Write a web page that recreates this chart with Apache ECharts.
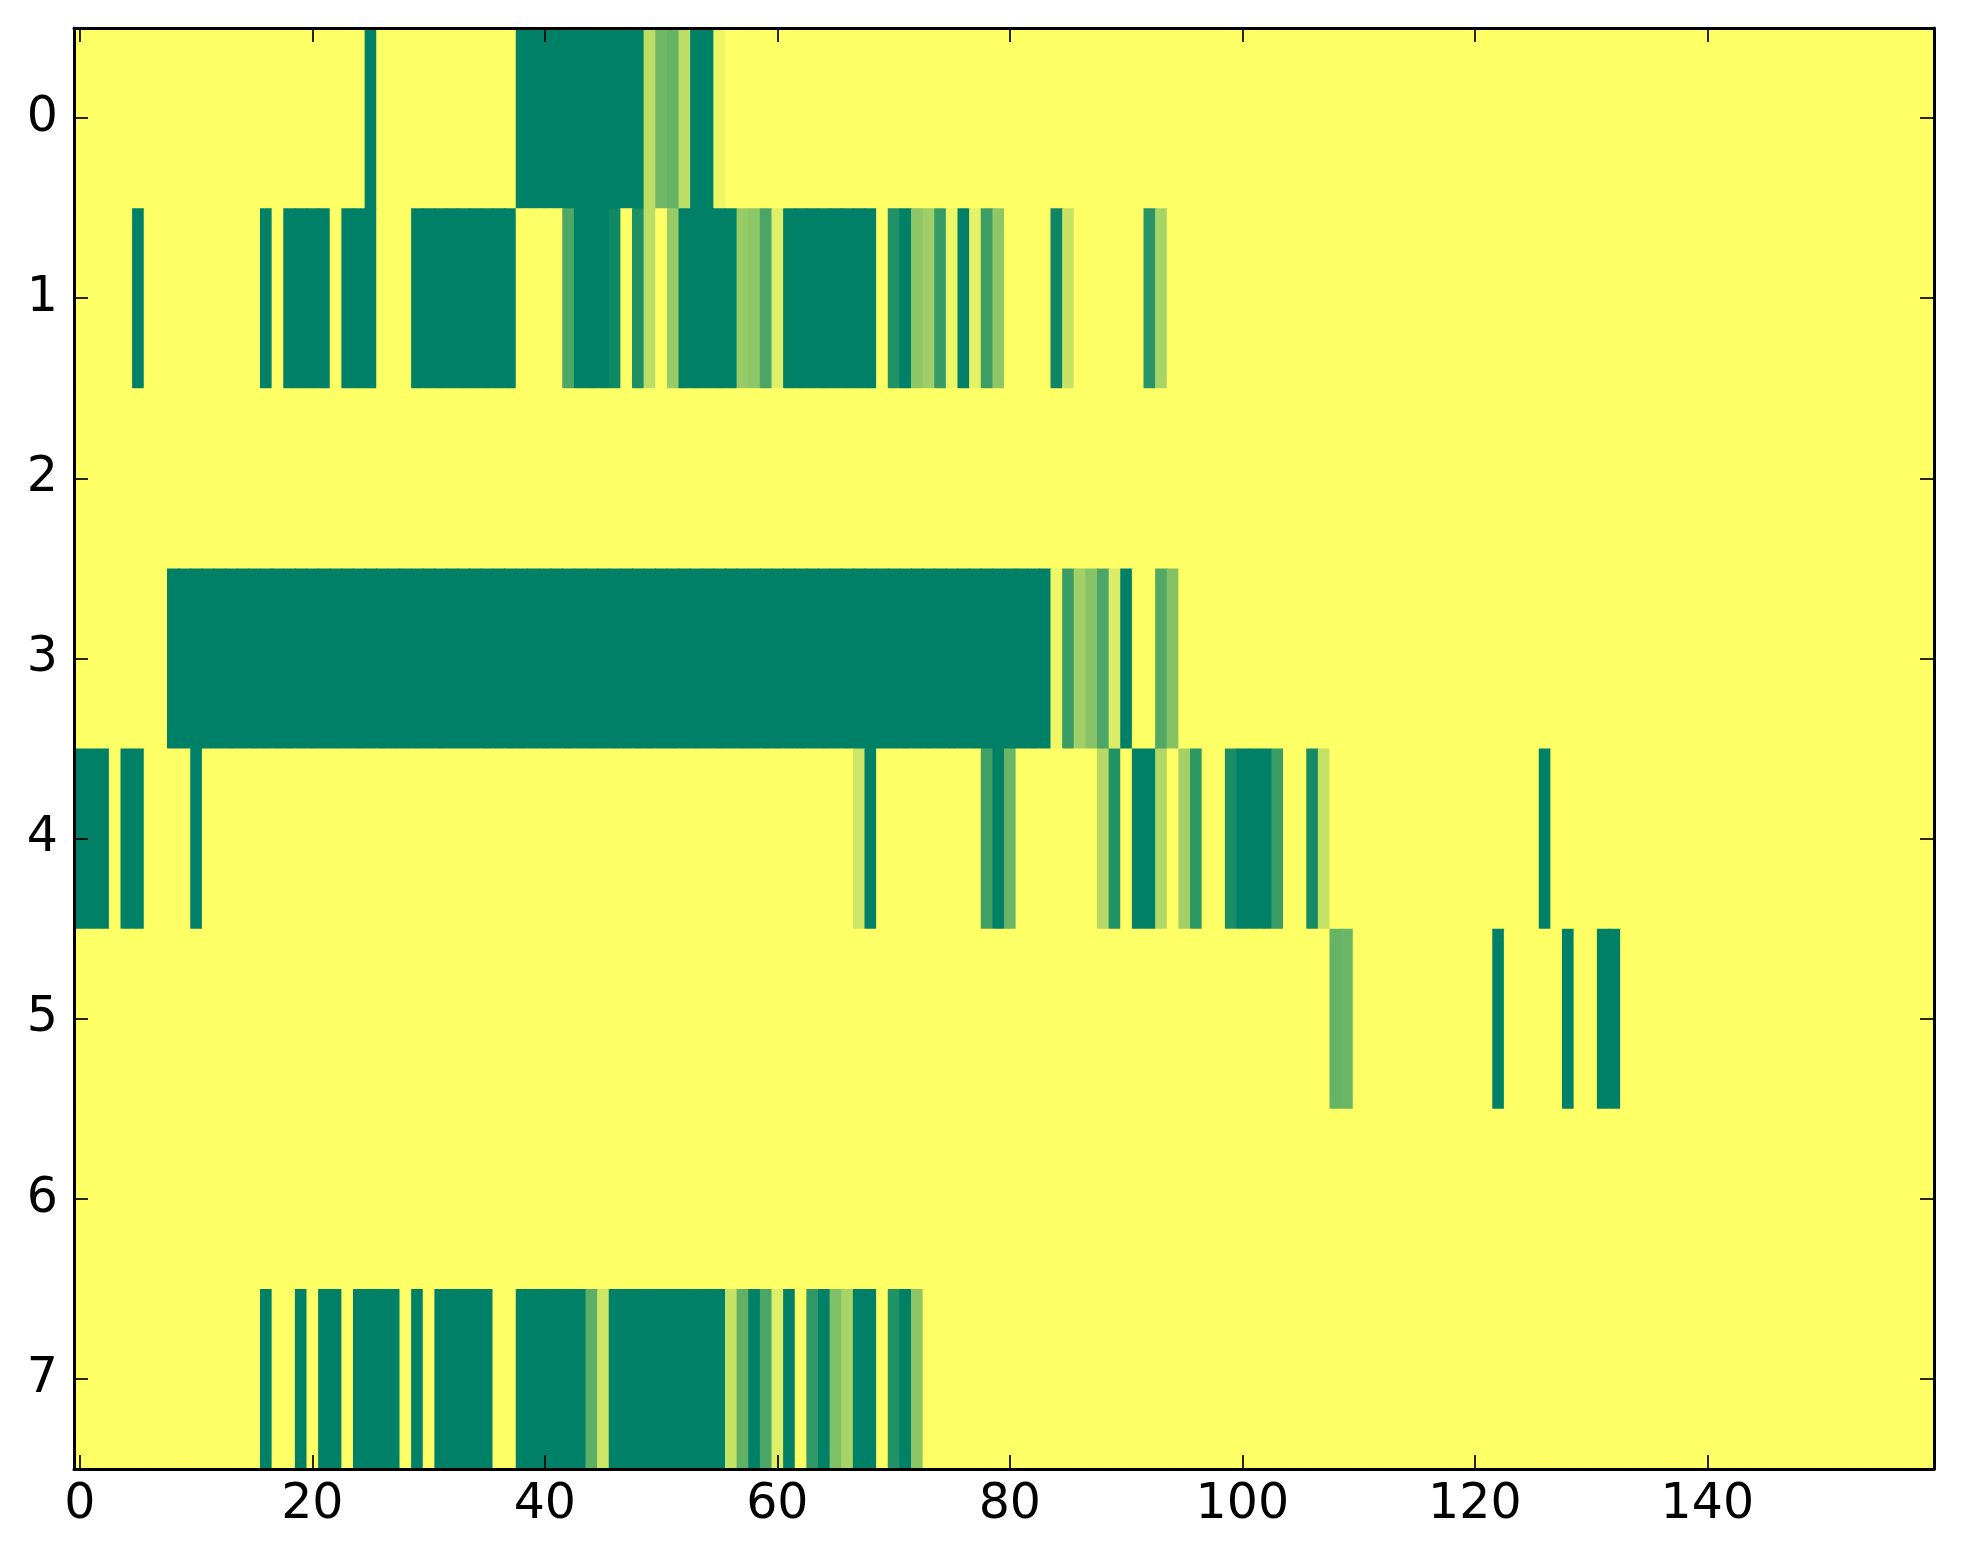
<!DOCTYPE html>
<html>
<head>
<meta charset="utf-8">
<script src="https://cdn.jsdelivr.net/npm/echarts@6/dist/echarts.min.js"></script>
<style>
html,body{margin:0;padding:0;background:#fff;}
#chart{width:1963px;height:1564px;}
</style>
</head>
<body>
<div id="chart"></div>
<script>
// number of columns / rows of the image
var nCols = 160;
var rowLabels = ['0','1','2','3','4','5','6','7'];
var xTickLabels = [0, 20, 40, 60, 80, 100, 120, 140];

// non-zero segments per row: [startCol, endCol, value]; all other cells are 0
var row0 = [[25,25,1],[38,48,1],[49,49,0.26],[50,50,0.56],[51,51,0.6],[52,52,0.26],[53,54,1],[55,55,0.07]];
var row1 = [[5,5,1],[16,16,1],[18,21,1],[23,25,1],[29,37,1],[42,42,0.69],[43,45,1],[46,46,0.94],[48,48,0.88],[49,49,0.26],[51,51,0.41],[52,56,1],[57,57,0.41],[58,58,0.45],[59,59,0.71],[60,60,0.13],[61,68,1],[70,70,0.87],[71,71,1],[72,72,0.45],[73,73,0.38],[74,74,0.78],[75,75,0.07],[76,76,1],[77,77,0.1],[78,78,0.76],[79,79,0.44],[84,84,0.95],[85,85,0.22],[92,92,0.84],[93,93,0.34]];
var row2 = [];
var row3 = [[8,83,1],[84,84,0.06],[85,85,0.77],[86,86,0.37],[87,87,0.47],[88,88,0.71],[89,89,0.14],[90,90,1],[93,93,0.68],[94,94,0.48]];
var row4 = [[0,2,1],[4,5,1],[10,10,1],[67,67,0.2],[68,68,1],[78,78,0.75],[79,79,1],[80,80,0.58],[88,88,0.29],[89,89,0.87],[91,92,1],[93,93,0.31],[95,95,0.36],[96,96,0.82],[99,99,0.9],[100,102,1],[103,103,0.77],[106,106,0.91],[107,107,0.23],[126,126,1]];
var row5 = [[108,108,0.6],[109,109,0.58],[122,122,1],[128,128,1],[131,132,1]];
var row6 = [];
var row7 = [[16,16,1],[19,19,1],[21,22,1],[24,27,1],[29,29,1],[31,35,1],[38,43,1],[44,44,0.63],[45,45,0.2],[46,55,1],[56,56,0.23],[57,57,0.62],[58,58,1],[59,59,0.71],[60,60,0.13],[61,61,1],[63,63,0.81],[64,64,1],[65,65,0.5],[66,66,0.34],[67,68,1],[70,70,0.87],[71,71,1],[72,72,0.45]];

var rows = [row0,row1,row2,row3,row4,row5,row6,row7];

var xCats = [];
for (var c = 0; c < nCols; c++) xCats.push(String(c));

var data = [];
rows.forEach(function(segs, r){
  var vals = new Array(nCols).fill(0);
  segs.forEach(function(s){ for (var c = s[0]; c <= s[1]; c++) vals[c] = s[2]; });
  vals.forEach(function(v, c){ data.push([c, r, v]); });
});

var font = 'DejaVu Sans';
var isTick = function(i, v){ return xTickLabels.indexOf(Number(v)) >= 0; };

function renderCell(params, api){
  var p = api.coord([api.value(0), api.value(1)]);
  var s = api.size([1, 1]);
  return {
    type: 'rect',
    shape: {x: p[0] - s[0] / 2, y: p[1] - s[1] / 2, width: s[0] + 0.8, height: s[1] + 0.8},
    style: {fill: api.visual('color'), stroke: null, lineWidth: 0}
  };
}

var chart = echarts.init(document.getElementById('chart'), null, {renderer:'canvas'});
chart.setOption({
  animation: false,
  backgroundColor: '#ffffff',
  grid: {left: 74, right: 29, top: 28, bottom: 95, containLabel: false},
  visualMap: {show: false, min: 0, max: 1, dimension: 2, seriesIndex: 0, inRange: {color: ['#ffff66', '#008066']}},
  xAxis: [{
    type: 'category', data: xCats, position: 'bottom', z: 10,
    axisLine: {show: true, lineStyle: {color: '#000', width: 3}},
    axisTick: {show: true, inside: true, alignWithLabel: true, interval: isTick, length: 14, lineStyle: {color: '#000', width: 1.7}},
    axisLabel: {show: true, interval: isTick, margin: 12, color: '#000', fontFamily: font, fontSize: 49},
    splitLine: {show: false}
  },{
    type: 'category', data: xCats, position: 'top', z: 10,
    axisLine: {show: true, lineStyle: {color: '#000', width: 3}},
    axisTick: {show: true, inside: true, alignWithLabel: true, interval: isTick, length: 14, lineStyle: {color: '#000', width: 1.7}},
    axisLabel: {show: false},
    splitLine: {show: false}
  }],
  yAxis: [{
    type: 'category', data: rowLabels, inverse: true, position: 'left', z: 10,
    axisLine: {show: true, lineStyle: {color: '#000', width: 3}},
    axisTick: {show: true, inside: true, alignWithLabel: true, length: 14, lineStyle: {color: '#000', width: 1.7}},
    axisLabel: {show: true, margin: 16, color: '#000', fontFamily: font, fontSize: 49},
    splitLine: {show: false}
  },{
    type: 'category', data: rowLabels, inverse: true, position: 'right', z: 10,
    axisLine: {show: true, lineStyle: {color: '#000', width: 3}},
    axisTick: {show: true, inside: true, alignWithLabel: true, length: 14, lineStyle: {color: '#000', width: 1.7}},
    axisLabel: {show: false},
    splitLine: {show: false}
  }],
  series: [{
    type: 'custom', xAxisIndex: 0, yAxisIndex: 0, data: data,
    encode: {x: 0, y: 1},
    renderItem: renderCell,
    clip: true,
    silent: true
  }]
});
</script>
</body>
</html>
